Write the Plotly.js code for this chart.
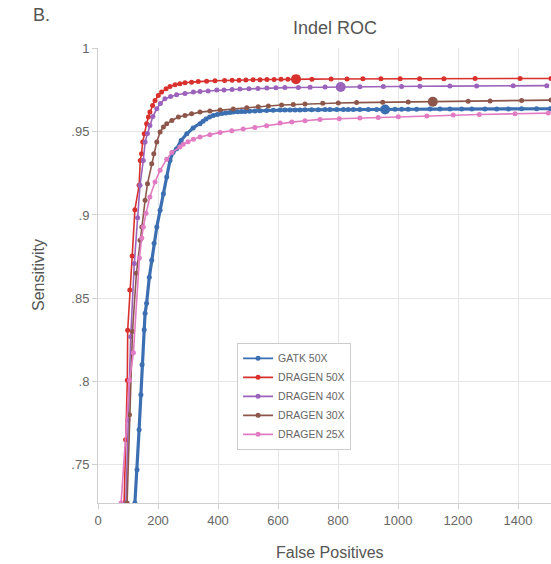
<!DOCTYPE html>
<html>
<head>
<meta charset="utf-8">
<script src="https://cdn.plot.ly/plotly-3.0.1.min.js"></script>
<style>html,body{margin:0;padding:0;background:#fff;}#chart{width:551px;height:564px;}</style>
</head>
<body>
<div id="chart"></div>
<script>
// ---- data ----
const seriesNames = ['GATK 50X', 'DRAGEN 50X', 'DRAGEN 40X', 'DRAGEN 30X', 'DRAGEN 25X'];

const gatkX = [123, 130, 137, 143, 147, 154, 157, 162, 171, 179, 187, 196, 207, 218, 229, 240, 250, 262, 277, 296, 317, 340, 350, 360, 372, 384, 398, 413, 426, 440, 451, 465, 478, 490, 505, 523, 540, 562, 584, 607, 623, 640, 657, 673, 690, 712, 734, 757, 773, 796, 818, 834, 851, 873, 901, 929, 957, 990, 1012, 1034, 1062, 1107, 1140, 1173, 1212, 1246, 1290, 1329, 1368, 1412, 1462, 1507];
const gatkY = [0.727, 0.747, 0.771, 0.792, 0.810, 0.831, 0.841, 0.847, 0.8626, 0.8728, 0.883, 0.8928, 0.9028, 0.9128, 0.9228, 0.9328, 0.9376, 0.9398, 0.9448, 0.9488, 0.9523, 0.9548, 0.9563, 0.9577, 0.9588, 0.9598, 0.9604, 0.961, 0.9613, 0.9616, 0.9618, 0.962, 0.9621, 0.9622, 0.9623, 0.9625, 0.9626, 0.9628, 0.9629, 0.963, 0.963, 0.9631, 0.9631, 0.9631, 0.9632, 0.9632, 0.9632, 0.9633, 0.9633, 0.9633, 0.9633, 0.9633, 0.9634, 0.9634, 0.9634, 0.9634, 0.9634, 0.9635, 0.9635, 0.9635, 0.9635, 0.9636, 0.9636, 0.9636, 0.9636, 0.9637, 0.9637, 0.9637, 0.9637, 0.9638, 0.9638, 0.9638];

const d50X = [87, 92, 97.7, 99, 106, 114, 123, 137, 141, 145, 149, 154, 162, 168, 173, 182, 190, 201, 212, 227, 240, 257, 273, 290, 312, 334, 362, 390, 422, 447, 470, 493, 517, 540, 563, 587, 610, 633, 660, 713, 777, 830, 883, 943, 1007, 1072, 1153, 1257, 1407, 1510];
const d50Y = [0.727, 0.765, 0.8008, 0.8308, 0.855, 0.8754, 0.9032, 0.9178, 0.9328, 0.9368, 0.9438, 0.9488, 0.9548, 0.9588, 0.9618, 0.9658, 0.9688, 0.9718, 0.9738, 0.9758, 0.9772, 0.9782, 0.9788, 0.9794, 0.9798, 0.9802, 0.9804, 0.9806, 0.9808, 0.9809, 0.981, 0.9811, 0.9812, 0.9813, 0.9814, 0.9814, 0.9815, 0.9815, 0.9816, 0.9816, 0.9817, 0.9817, 0.9818, 0.9818, 0.9819, 0.9819, 0.9819, 0.982, 0.982, 0.982];

const d40X = [93, 100, 109, 121, 132, 140, 151, 157, 165, 173, 183, 196, 208, 223, 242, 262, 290, 318, 340, 367, 396, 420, 447, 473, 503, 533, 563, 593, 623, 668, 707, 757, 809, 873, 951, 1012, 1073, 1173, 1262, 1384, 1496];
const d40Y = [0.727, 0.7768, 0.8268, 0.8708, 0.8984, 0.9178, 0.9328, 0.9438, 0.949, 0.9538, 0.9592, 0.9638, 0.967, 0.9698, 0.9712, 0.9722, 0.973, 0.9738, 0.9742, 0.9745, 0.975, 0.9751, 0.9754, 0.9756, 0.9758, 0.976, 0.9762, 0.9764, 0.9765, 0.9766, 0.9767, 0.9768, 0.9769, 0.977, 0.9771, 0.9772, 0.9773, 0.9774, 0.9775, 0.9776, 0.9777];

const d30X = [97, 105, 115, 128, 140, 146, 157, 165, 179, 186, 196, 207, 218, 229, 246, 268, 290, 312, 340, 373, 407, 451, 496, 534, 568, 612, 651, 690, 749, 801, 862, 949, 1034, 1116, 1234, 1307, 1412, 1510];
const d30Y = [0.727, 0.78, 0.83, 0.865, 0.8848, 0.8928, 0.9088, 0.9188, 0.9308, 0.9368, 0.9438, 0.9498, 0.9528, 0.9548, 0.9568, 0.9588, 0.9598, 0.9608, 0.9618, 0.9624, 0.963, 0.9636, 0.9644, 0.965, 0.9655, 0.9661, 0.9664, 0.9667, 0.9671, 0.9673, 0.9675, 0.9677, 0.9678, 0.968, 0.9683, 0.9685, 0.9688, 0.969];

const d25X = [77, 105, 118, 138, 146, 151, 160, 173, 190, 207, 229, 246, 273, 284, 300, 318, 340, 373, 407, 446, 484, 523, 562, 607, 646, 690, 740, 804, 873, 934, 1001, 1096, 1184, 1271, 1390, 1501];
const d25Y = [0.727, 0.8008, 0.8172, 0.8742, 0.8862, 0.8928, 0.901, 0.9108, 0.9198, 0.9268, 0.9335, 0.9375, 0.9408, 0.9425, 0.944, 0.9455, 0.9468, 0.9482, 0.9496, 0.9506, 0.9516, 0.9526, 0.9536, 0.9552, 0.9558, 0.9566, 0.9574, 0.9578, 0.9582, 0.9586, 0.959, 0.9595, 0.96, 0.9604, 0.9608, 0.9612];

// highlighted operating points
const highlightX = [957, 660, 809, 1116];
const highlightY = [0.9634, 0.9816, 0.9769, 0.968];

const xTicks = [0, 200, 400, 600, 800, 1000, 1200, 1400];
const yTicks = [0.75, 0.8, 0.85, 0.9, 0.95, 1];
const yTickText = ['.75', '.8', '.85', '.9', '.95', '1'];

// ---- styles ----
const colors = ['#3b6fb2', '#d8312d', '#9b63bb', '#8c564b', '#e27cc2'];
const xs = [gatkX, d50X, d40X, d30X, d25X];
const ys = [gatkY, d50Y, d40Y, d30Y, d25Y];

const traces = [];
xs.forEach((x, i) => {
  traces.push({
    type: 'scatter', mode: 'lines+markers', name: seriesNames[i],
    x: x, y: ys[i], showlegend: i !== 0, legendrank: i + 1,
    line: {color: colors[i], width: i === 0 ? 3.2 : 1.6},
    marker: {color: colors[i], size: 5}
  });
  if (i === 0) {
    // legend entry for GATK drawn thin, as in the reference legend
    traces.push({
      type: 'scatter', mode: 'lines+markers', name: seriesNames[0],
      x: [null], y: [null], legendrank: 0, hoverinfo: 'skip',
      line: {color: colors[0], width: 1.6}, marker: {color: colors[0], size: 5}
    });
  }
});
highlightX.forEach((hx, i) => {
  traces.push({
    type: 'scatter', mode: 'markers', showlegend: false, hoverinfo: 'skip',
    x: [hx], y: [highlightY[i]],
    marker: {color: colors[i], size: 10}
  });
});

const txt = '#666';
const layout = {
  width: 551, height: 564,
  margin: {l: 98, r: 0, t: 48, b: 61, pad: 0},
  paper_bgcolor: '#fff', plot_bgcolor: '#fff',
  font: {family: 'Liberation Sans, Arial, sans-serif', color: txt},
  title: {text: 'Indel ROC', font: {size: 18, color: '#555'}, xref: 'container', yref: 'container', x: 0.608, xanchor: 'center', y: 1 - 28 / 564, yanchor: 'middle'},
  xaxis: {
    range: [0, 1510], tickvals: xTicks, ticks: 'outside', ticklen: 5, tickcolor: '#cfcfcf',
    showgrid: true, gridcolor: '#e6e6e6', showline: true, linecolor: '#cfcfcf', zeroline: false,
    tickfont: {size: 13, color: txt}
  },
  yaxis: {
    range: [0.727, 1.0003], tickvals: yTicks, ticktext: yTickText, ticks: 'outside', ticklen: 5, tickcolor: '#cfcfcf',
    showgrid: true, gridcolor: '#e6e6e6', showline: true, linecolor: '#cfcfcf', zeroline: false,
    tickfont: {size: 13, color: txt}
  },
  legend: {
    x: 0.307, y: 0.352, xanchor: 'left', yanchor: 'top',
    bgcolor: '#fff', bordercolor: '#cccccc', borderwidth: 1,
    font: {size: 10.5, color: txt}, tracegroupgap: 0
  },
  annotations: [
    {text: 'B.', xref: 'paper', yref: 'paper', x: (41 - 98) / 453, y: 1 + (48 - 15) / 455, xanchor: 'center', yanchor: 'middle', showarrow: false, font: {size: 18, color: '#555'}},
    {text: 'Sensitivity', xref: 'paper', yref: 'paper', x: (38 - 98) / 453, y: (503 - 275) / 455, xanchor: 'center', yanchor: 'middle', textangle: -90, showarrow: false, font: {size: 16, color: '#555'}},
    {text: 'False Positives', xref: 'paper', yref: 'paper', x: (330 - 98) / 453, y: -(552 - 503) / 455, xanchor: 'center', yanchor: 'middle', showarrow: false, font: {size: 16, color: '#555'}}
  ]
};

Plotly.newPlot('chart', traces, layout, {displayModeBar: false, staticPlot: true});
</script>
</body>
</html>
